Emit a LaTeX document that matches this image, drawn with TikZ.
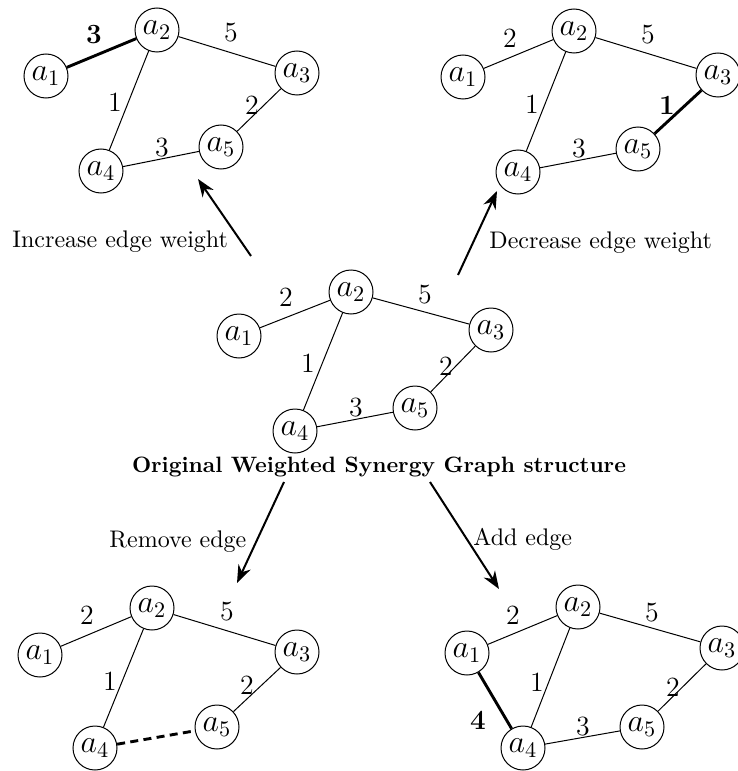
\documentclass[tikz,border=0pt]{standalone}
\usetikzlibrary{arrows.meta}
\begin{document}
\begin{tikzpicture}[x=0.45pt, y=-0.45pt]
\tikzset{
  agent/.style={draw, circle, line width=0.45pt, minimum size=19.8pt, inner sep=0pt, font=\Large},
  wlabel/.style={inner sep=0pt, font=\fontsize{12.5}{15}\selectfont},
  blabel/.style={inner sep=0pt, font=\fontsize{12.5}{15}\selectfont\bfseries},
  link/.style={line width=0.45pt},
  heavy/.style={line width=1.3pt},
  cut/.style={line width=1.3pt, dash pattern=on 3.6pt off 2.4pt},
  move/.style={line width=0.9pt, -{Stealth[length=8pt,width=6pt]}},
  caption/.style={inner sep=0pt, font=\fontsize{10.8}{13}\selectfont},
}
\useasboundingbox (0,0) rectangle (737,771);

% ---- original graph (centre) ----
\begin{scope}[shift={(239,336)}]
  \node[agent] (m1) at (0,0) {$a_1$};
  \node[agent] (m2) at (112,-44) {$a_2$};
  \node[agent] (m3) at (252,-6) {$a_3$};
  \node[agent] (m4) at (56,95) {$a_4$};
  \node[agent] (m5) at (176,72) {$a_5$};
  \draw[link] (m1) -- (m2);
  \draw[link] (m2) -- (m3);
  \draw[link] (m2) -- (m4);
  \draw[link] (m3) -- (m5);
  \draw[link] (m4) -- (m5);
  \node[wlabel] (mw12) at (47,-39) {2};
  \node[wlabel] (mw23) at (186,-41) {5};
  \node[wlabel] (mw24) at (69,27) {1};
  \node[wlabel] (mw35) at (207,30) {2};
  \node[wlabel] (mw45) at (117,72) {3};
\end{scope}
\node[inner sep=0pt, anchor=base, font=\bfseries] (title) at (379,472) {Original Weighted Synergy Graph structure};

% ---- increased weight (top left) ----
\begin{scope}[shift={(46,76)}]
  \node[agent] (p1) at (0,0) {$a_1$};
  \node[agent] (p2) at (111,-46) {$a_2$};
  \node[agent] (p3) at (251,-3) {$a_3$};
  \node[agent] (p4) at (55,95) {$a_4$};
  \node[agent] (p5) at (175,71) {$a_5$};
  \draw[heavy] (p1) -- (p2);
  \draw[link] (p2) -- (p3);
  \draw[link] (p2) -- (p4);
  \draw[link] (p3) -- (p5);
  \draw[link] (p4) -- (p5);
  \node[blabel] (pw12) at (48,-41) {3};
  \node[wlabel] (pw23) at (185,-43) {5};
  \node[wlabel] (pw24) at (69,26) {1};
  \node[wlabel] (pw35) at (206,29) {2};
  \node[wlabel] (pw45) at (116,72) {3};
\end{scope}

% ---- decreased weight (top right) ----
\begin{scope}[shift={(463,77)}]
  \node[agent] (d1) at (0,0) {$a_1$};
  \node[agent] (d2) at (111,-46) {$a_2$};
  \node[agent] (d3) at (255,-2) {$a_3$};
  \node[agent] (d4) at (55,95) {$a_4$};
  \node[agent] (d5) at (175,72) {$a_5$};
  \draw[link] (d1) -- (d2);
  \draw[link] (d2) -- (d3);
  \draw[link] (d2) -- (d4);
  \draw[heavy] (d3) -- (d5);
  \draw[link] (d4) -- (d5);
  \node[wlabel] (dw12) at (47,-39) {2};
  \node[wlabel] (dw23) at (185,-42) {5};
  \node[wlabel] (dw24) at (69,27) {1};
  \node[blabel] (dw35) at (204,28) {1};
  \node[wlabel] (dw45) at (116,72) {3};
\end{scope}

% ---- removed edge (bottom left) ----
\begin{scope}[shift={(40,655)}]
  \node[agent] (r1) at (0,0) {$a_1$};
  \node[agent] (r2) at (112,-47) {$a_2$};
  \node[agent] (r3) at (257,-3) {$a_3$};
  \node[agent] (r4) at (55,93) {$a_4$};
  \node[agent] (r5) at (177,72) {$a_5$};
  \draw[link] (r1) -- (r2);
  \draw[link] (r2) -- (r3);
  \draw[link] (r2) -- (r4);
  \draw[link] (r3) -- (r5);
  \draw[cut] (r4) -- (r5);
  \node[wlabel] (rw12) at (47,-40) {2};
  \node[wlabel] (rw23) at (187,-43) {5};
  \node[wlabel] (rw24) at (70,26) {1};
  \node[wlabel] (rw35) at (207,30) {2};
\end{scope}

% ---- added edge (bottom right) ----
\begin{scope}[shift={(467,653)}]
  \node[agent] (n1) at (0,0) {$a_1$};
  \node[agent] (n2) at (111,-46) {$a_2$};
  \node[agent] (n3) at (255,-5) {$a_3$};
  \node[agent] (n4) at (56,95) {$a_4$};
  \node[agent] (n5) at (175,74) {$a_5$};
  \draw[link] (n1) -- (n2);
  \draw[link] (n2) -- (n3);
  \draw[link] (n2) -- (n4);
  \draw[link] (n3) -- (n5);
  \draw[link] (n4) -- (n5);
  \draw[heavy] (n1) -- (n4);
  \node[wlabel] (nw12) at (46,-38) {2};
  \node[wlabel] (nw23) at (185,-40) {5};
  \node[wlabel] (nw24) at (70,29) {1};
  \node[wlabel] (nw35) at (206,34) {2};
  \node[wlabel] (nw45) at (116,74) {3};
  \node[blabel] (nw14) at (11,67) {4};
\end{scope}

% ---- transformation arrows ----
\coordinate (upLs) at (251,256);
\coordinate (upLe) at (198,179);
\coordinate (upRs) at (458,275);
\coordinate (upRe) at (497,191);
\coordinate (dnLs) at (284,482);
\coordinate (dnLe) at (237,583);
\coordinate (dnRs) at (430,482);
\coordinate (dnRe) at (499,589);
\draw[move] (upLs) -- (upLe);
\draw[move] (upRs) -- (upRe);
\draw[move] (dnLs) -- (dnLe);
\draw[move] (dnRs) -- (dnRe);

\node[caption, anchor=base west] (incr) at (12,247) {Increase edge weight};
\node[caption, anchor=base west] (decr) at (489,248) {Decrease edge weight};
\node[caption, anchor=base west] (remv) at (109,547) {Remove edge};
\node[caption, anchor=base west] (addd) at (473,545) {Add edge};
\end{tikzpicture}
\end{document}
